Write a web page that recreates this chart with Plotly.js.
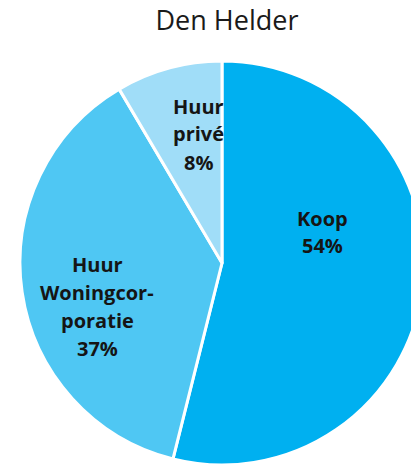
<!DOCTYPE html>
<html>
<head>
<meta charset="utf-8">
<script src="https://cdn.plot.ly/plotly-3.0.1.min.js"></script>
<style>
html,body{margin:0;padding:0;overflow:hidden;background:#fff;width:411px;height:464px;}
#chart{width:424px;height:465px;}
</style>
</head>
<body>
<div id="chart"></div>
<script>
const categories = ["Koop", "Huur Woningcorporatie", "Huur privé"];
const values = [53.9, 37.6, 8.5];
const labelLines = [["Koop", "54%"], ["Huur", "Woningcor-", "poratie", "37%"], ["Huur", "privé", "8%"]];
const colors = ["#00B0F0", "#4FC7F3", "#A0DDF8"];

// label block centres in pixels of the plot area (x from left, y from top)
const labelPos = [[322, 232], [97, 306], [198, 134]];
const lineGap = 28;
const plotW = 404, plotH = 404, mL = 20, mT = 61;

const annotations = [];
labelLines.forEach((lines, i) => {
  const n = lines.length;
  lines.forEach((t, j) => {
    const py = labelPos[i][1] + (j - (n - 1) / 2) * lineGap;
    annotations.push({
      text: "<b>" + t + "</b>",
      xref: "paper", yref: "paper",
      x: (labelPos[i][0] - mL) / plotW,
      y: 1 - (py - mT) / plotH,
      xanchor: "center", yanchor: "middle",
      showarrow: false,
      font: {family: "Open Sans, sans-serif", size: 20, color: "#151515"}
    });
  });
});

const data = [{
  type: "pie",
  labels: categories,
  values: values,
  sort: false,
  direction: "clockwise",
  rotation: 0,
  textinfo: "none",
  hoverinfo: "label+percent",
  marker: {colors: colors, line: {color: "#ffffff", width: 3}},
  showlegend: false
}];

const layout = {
  width: 424, height: 465,
  margin: {l: mL, r: 0, t: mT, b: 0, pad: 0},
  paper_bgcolor: "#ffffff",
  title: {
    text: "Den Helder",
    font: {family: "Open Sans, sans-serif", size: 27, color: "#1a1a1a"},
    x: 227/424, xref: "container", xanchor: "center",
    y: 1 - 21/465, yref: "container", yanchor: "middle"
  },
  annotations: annotations
};

Plotly.newPlot("chart", data, layout, {displayModeBar: false, staticPlot: true});
</script>
</body>
</html>
